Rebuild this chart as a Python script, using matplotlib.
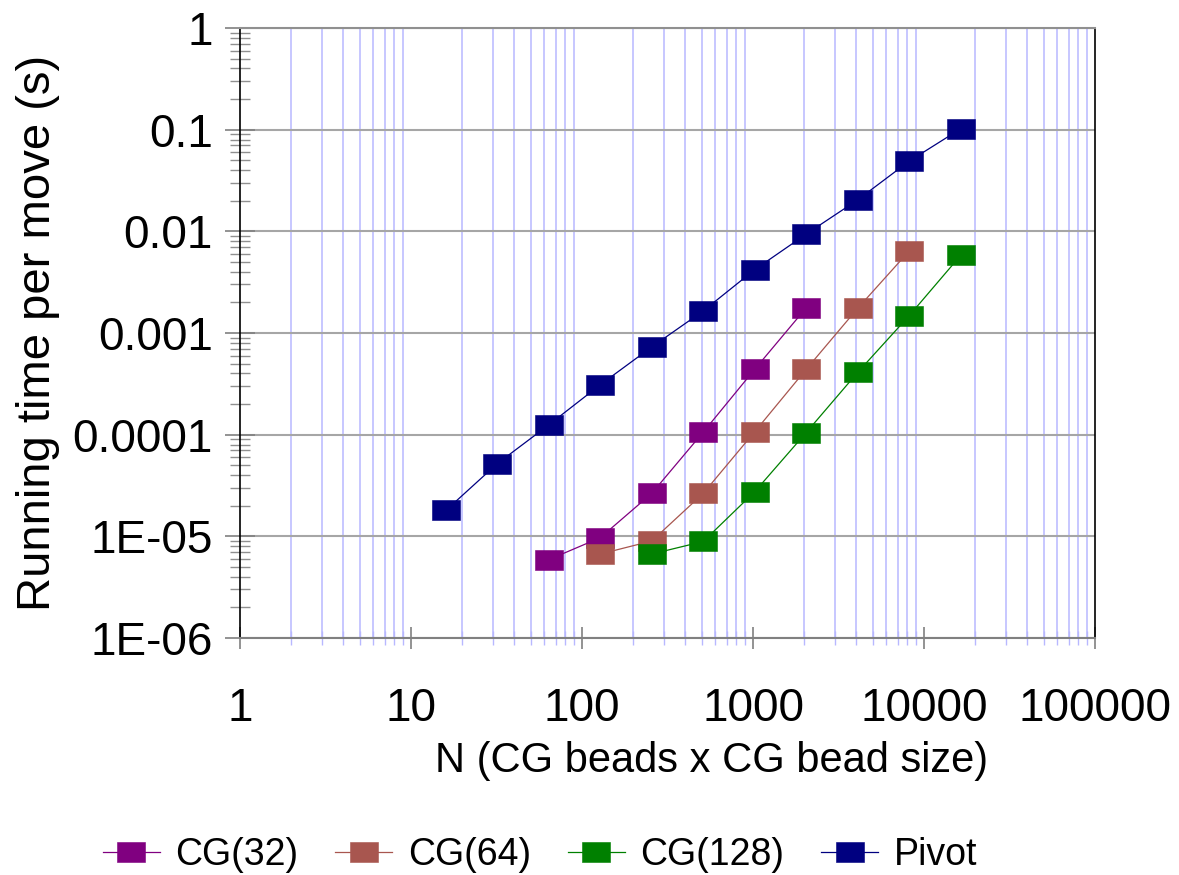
import numpy as np
import matplotlib
matplotlib.use("Agg")
from matplotlib import pyplot as plt
from matplotlib.ticker import LogLocator, NullFormatter, FixedLocator, FixedFormatter

plt.rcParams['font.family'] = ['Liberation Sans', 'DejaVu Sans']

# data
n_cg32 = [64, 128, 256, 512, 1024, 2048]
t_cg32 = [5.9e-6, 9.7e-6, 2.65e-5, 1.06e-4, 4.4e-4, 1.77e-3]

n_cg64 = [128, 256, 512, 1024, 2048, 4096, 8192]
t_cg64 = [6.7e-6, 9.0e-6, 2.65e-5, 1.07e-4, 4.4e-4, 1.75e-3, 6.4e-3]

n_cg128 = [256, 512, 1024, 2048, 4096, 8192, 16384]
t_cg128 = [6.7e-6, 8.9e-6, 2.75e-5, 1.05e-4, 4.1e-4, 1.48e-3, 5.8e-3]

n_pivot = [16, 32, 64, 128, 256, 512, 1024, 2048, 4096, 8192, 16384]
t_pivot = [1.8e-5, 5.2e-5, 1.25e-4, 3.1e-4, 7.3e-4, 1.65e-3, 4.2e-3, 9.4e-3, 0.0204, 0.049, 0.102]

labels = ['CG(32)', 'CG(64)', 'CG(128)', 'Pivot']
colors = ['#800080', '#A8564F', '#008000', '#000080']

xticks = [1, 10, 100, 1000, 10000, 100000]
xticklabels = ['1', '10', '100', '1000', '10000', '100000']
yticks = [1e-6, 1e-5, 1e-4, 1e-3, 1e-2, 1e-1, 1]
yticklabels = ['1E-06', '1E-05', '0.0001', '0.001', '0.01', '0.1', '1']

# wide, short box marker
box = [(-1, -0.76), (1, -0.76), (1, 0.76), (-1, 0.76), (-1, -0.76)]

fig = plt.figure(figsize=(11.79, 8.75), dpi=100)
ax = fig.add_axes([240/1179, 1-638/875, 855/1179, 610/875])

series = [(n_cg32, t_cg32), (n_cg64, t_cg64), (n_cg128, t_cg128), (n_pivot, t_pivot)]
for (n, t), lab, c in zip(series, labels, colors):
    ax.plot(n, t, color=c, lw=0.9, marker=box, ms=19.8, mfc=c, mec=c, mew=0.4, label=lab, zorder=3)

ax.set_xscale('log')
ax.set_yscale('log')
ax.set_xlim(1, 100000)
ax.set_ylim(1e-6, 1)

ax.xaxis.set_major_locator(FixedLocator(xticks))
ax.xaxis.set_major_formatter(FixedFormatter(xticklabels))
ax.yaxis.set_major_locator(FixedLocator(yticks))
ax.yaxis.set_major_formatter(FixedFormatter(yticklabels))
ax.xaxis.set_minor_locator(LogLocator(base=10, subs=range(2, 10), numticks=20))
ax.yaxis.set_minor_locator(LogLocator(base=10, subs=range(2, 10), numticks=20))
ax.xaxis.set_minor_formatter(NullFormatter())
ax.yaxis.set_minor_formatter(NullFormatter())

ax.set_axisbelow(True)
ax.grid(which='major', axis='y', color='#a6a6a6', lw=1.5)
ax.grid(which='minor', axis='x', color='#b8b8ff', lw=1.1)

ax.tick_params(axis='y', which='major', direction='inout', length=21, width=1.2,
               color='#808080', labelsize=33, pad=9)
ax.tick_params(axis='y', which='minor', direction='inout', length=14, width=1.0, color='#909090')
ax.tick_params(axis='x', which='major', direction='inout', length=16, width=1.2,
               color='#808080', labelsize=33, pad=27)
ax.tick_params(axis='x', which='minor', direction='inout', length=10, width=1.0, color='#b8b8ff')

ax.spines['left'].set_color('black')
ax.spines['left'].set_linewidth(1.2)
ax.spines['right'].set_color('black')
ax.spines['right'].set_linewidth(1.2)
ax.spines['bottom'].set_color('#808080')
ax.spines['bottom'].set_linewidth(1.5)
ax.spines['top'].set_color('#909090')
ax.spines['top'].set_linewidth(1.5)

ax.set_xlabel('N (CG beads x CG bead size)', fontsize=30)
ax.xaxis.set_label_coords(0.551, -0.169)
ax.set_ylabel('Running time per move (s)', fontsize=34)
ax.yaxis.set_label_coords(-0.21, 0.5)

fig.legend(loc='center', bbox_to_anchor=(540/1179, 1-855/875), ncol=4, frameon=False,
           fontsize=27, handlelength=1.52, handletextpad=0.42, columnspacing=0.98)

fig.savefig('out.png', dpi=100)
